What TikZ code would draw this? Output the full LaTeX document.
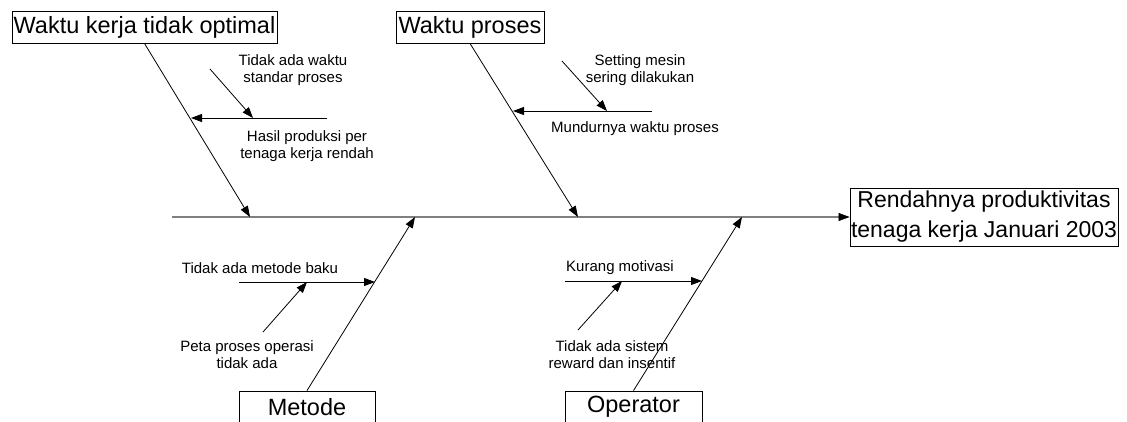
\documentclass[tikz,border=0pt]{standalone}
\usepackage{fontspec}
\setmainfont{Liberation Sans}
\usetikzlibrary{arrows.meta}
\begin{document}
\begin{tikzpicture}[x=1pt,y=-1pt,
  titlebox/.style={draw=black,line width=0.9pt,inner sep=0pt,minimum height=32pt,font=\fontsize{23.5}{27}\selectfont},
  effectbox/.style={draw=black,line width=0.9pt,inner sep=0pt,align=center,font=\fontsize{23}{30}\selectfont},
  lbl/.style={inner sep=0pt,align=center,font=\fontsize{15}{17}\selectfont},
  bone/.style={draw=black,line width=0.8pt,-{Triangle[length=11pt,width=8pt]}},
  spine/.style={draw=gray,line width=1.8pt,-{Triangle[length=11pt,width=8pt,color=black,fill=black,line width=0.5pt]}}]
\useasboundingbox (0,0) rectangle (1127,421);
\clip (0,0) rectangle (1127,421);
\fill[white] (0,0) rectangle (1127,421);
% boxes
\node[titlebox,minimum width=265pt] (wk) at (144.5,27) {Waktu kerja tidak optimal};
\node[titlebox,minimum width=148pt] (wp) at (470,27) {Waktu proses};
\node[titlebox,minimum width=136pt] (mt) at (307,407) {Metode};
\node[titlebox,minimum width=137pt] (op) at (633.5,407) {Operator};
\node[effectbox,minimum width=268pt,minimum height=58pt] (ef) at (984,217) {Rendahnya produktivitas\\tenaga kerja Januari 2003};
% spine
\coordinate (sp0) at (172,217);
\coordinate (s1) at (250,217);
\coordinate (s2) at (578,217);
\coordinate (s3) at (415,217);
\coordinate (s4) at (742,217);
\draw[spine] (sp0) -- (ef.west);
% main bones
\draw[bone] (wk.south) -- (s1);
\draw[bone] (wp.south) -- (s2);
\draw[bone] (mt.north) -- (s3);
\draw[bone] (op.north) -- (s4);
% sub causes
\coordinate (a1) at (327,118); \coordinate (a1e) at (191,118);
\coordinate (b1) at (210,69);  \coordinate (b1e) at (253,118);
\draw[bone] (a1) -- (a1e);
\draw[bone] (b1) -- (b1e);
\coordinate (a2) at (652,111); \coordinate (a2e) at (513,111);
\coordinate (b2) at (562,61);  \coordinate (b2e) at (607,111);
\draw[bone] (a2) -- (a2e);
\draw[bone] (b2) -- (b2e);
\coordinate (a3) at (239,282); \coordinate (a3e) at (375,282);
\coordinate (b3) at (263,332); \coordinate (b3e) at (307,282);
\draw[bone] (a3) -- (a3e);
\draw[bone] (b3) -- (b3e);
\coordinate (a4) at (565,281); \coordinate (a4e) at (702,281);
\coordinate (b4) at (578,330); \coordinate (b4e) at (622,281);
\draw[bone] (a4) -- (a4e);
\draw[bone] (b4) -- (b4e);
% labels
\node[lbl] (l1) at (293,70) {Tidak ada waktu\\standar proses};
\node[lbl] (l2) at (307,146) {Hasil produksi per\\tenaga kerja rendah};
\node[lbl] (l3) at (640,70) {Setting mesin\\sering dilakukan};
\node[lbl] (l4) at (635,129) {Mundurnya waktu proses};
\node[lbl] (l5) at (260,268) {Tidak ada metode baku};
\node[lbl] (l6) at (247,355) {Peta proses operasi\\tidak ada};
\node[lbl] (l7) at (620,268) {Kurang motivasi};
\node[lbl] (l8) at (612,355) {Tidak ada sistem\\reward dan insentif};
\end{tikzpicture}
\end{document}
